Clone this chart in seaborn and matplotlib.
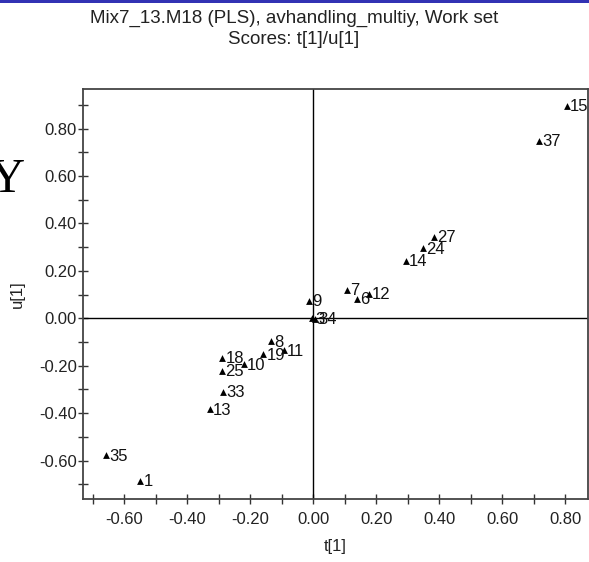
import matplotlib
matplotlib.use("Agg")
import matplotlib.pyplot as plt
from matplotlib.ticker import MultipleLocator, FormatStrFormatter
import pandas as pd
import seaborn as sns

# PLS score plot, component 1: t[1] (X scores) vs u[1] (Y scores)
obs_labels = ["1", "3", "34", "6", "7", "8", "9", "10", "11", "12", "13", "14",
              "15", "18", "19", "24", "25", "27", "33", "35", "37"]
t1 = [-0.549, -0.003, 0.006, 0.139, 0.109, -0.134, -0.013, -0.221, -0.092, 0.178,
      -0.329, 0.294, 0.805, -0.288, -0.158, 0.348, -0.288, 0.384, -0.285, -0.657, 0.718]
u1 = [-0.686, 0.001, -0.002, 0.083, 0.121, -0.096, 0.074, -0.194, -0.134, 0.103,
      -0.383, 0.243, 0.897, -0.166, -0.152, 0.295, -0.222, 0.344, -0.310, -0.577, 0.749]

title_lines = ["Mix7_13.M18 (PLS), avhandling_multiy, Work set", "Scores: t[1]/u[1]"]
x_label = "t[1]"
y_label = "u[1]"

df = pd.DataFrame({"obs": obs_labels, "t1": t1, "u1": u1})

sns.set_style("white")
plt.rcParams["font.family"] = ["Liberation Sans", "DejaVu Sans"]

W, H = 589, 562
fig = plt.figure(figsize=(W / 100, H / 100), dpi=100)
ax = fig.add_axes([83 / W, 1 - 499 / H, (588 - 83) / W, (499 - 89) / H])

sns.scatterplot(data=df, x="t1", y="u1", marker="^", s=24, color="black",
                linewidth=0, ax=ax, legend=False, zorder=3)

for lab, x, y in zip(df["obs"], df["t1"], df["u1"]):
    ax.annotate(lab, (x, y), xytext=(3, -1), textcoords="offset pixels",
                ha="left", va="center", fontsize=12, color="#111111",
                zorder=4)

ax.set_xlim(-0.731, 0.873)
ax.set_ylim(-0.762, 0.967)

# zero reference lines
ax.axhline(0, color="black", lw=1.0, zorder=2)
ax.axvline(0, color="black", lw=1.0, zorder=2)

ax.xaxis.set_major_locator(MultipleLocator(0.2))
ax.xaxis.set_minor_locator(MultipleLocator(0.1))
ax.yaxis.set_major_locator(MultipleLocator(0.2))
ax.yaxis.set_minor_locator(MultipleLocator(0.1))
ax.xaxis.set_major_formatter(FormatStrFormatter("%.2f"))
ax.yaxis.set_major_formatter(FormatStrFormatter("%.2f"))
ax.tick_params(which="both", direction="inout", length=7, width=1.0,
               color="#333333", labelsize=12, labelcolor="#222222",
               top=False, right=False, bottom=True, left=True)
ax.tick_params(axis="x", which="major", pad=6)
ax.tick_params(axis="y", which="major", pad=1)

for sp in ax.spines.values():
    sp.set_visible(True)
    sp.set_color("#444444")
    sp.set_linewidth(1.3)

ax.set_xlabel("")
ax.set_ylabel("")
fig.text(335 / W, 1 - 546 / H, x_label, ha="center", va="center",
         fontsize=12, color="#222222")
fig.text(17 / W, 1 - 294 / H, y_label, ha="center", va="center",
         rotation=90, fontsize=12, color="#222222")

fig.text(294 / W, 1 - 18 / H, title_lines[0], ha="center", va="center",
         fontsize=13.5, color="#222222")
fig.text(294 / W, 1 - 39 / H, title_lines[1], ha="center", va="center",
         fontsize=13.5, color="#222222")

# large serif letter at the left margin and the blue rule along the top
fig.text(25 / W, 1 - 192 / H, "Y", ha="right", va="baseline",
         fontsize=35, family=["Liberation Serif", "DejaVu Serif"], color="black")
fig.patches.append(plt.Rectangle((0, 1 - 3 / H), 1, 3 / H, transform=fig.transFigure,
                                 facecolor="#3232b4", edgecolor="none"))

fig.savefig("out.png", dpi=100)
